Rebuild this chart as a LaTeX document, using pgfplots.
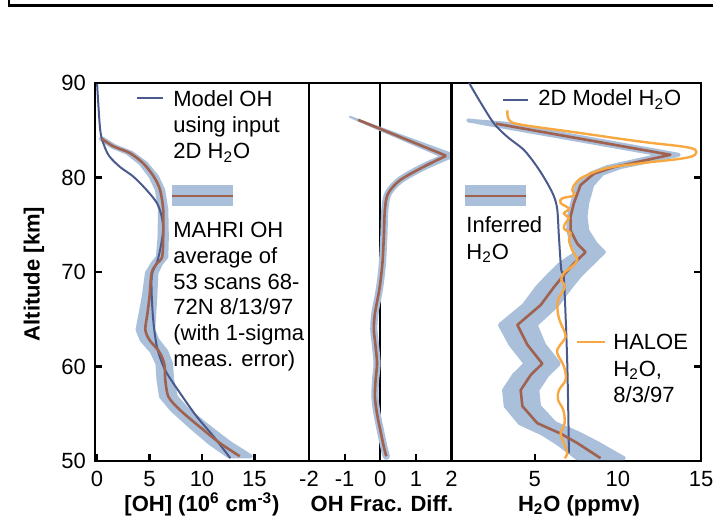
\documentclass[border=0pt]{standalone}
\usepackage{fontspec}
\setmainfont{Liberation Sans}
\usepackage{pgfplots}
\pgfplotsset{compat=1.18}
\definecolor{band}{HTML}{A9BFDA}
\definecolor{brn}{HTML}{A0624F}
\definecolor{mblue}{HTML}{4B5A8C}
\definecolor{orng}{HTML}{F8A842}
\newcommand\tf{\fontsize{11}{13}\selectfont}
\begin{document}
\begin{tikzpicture}
\useasboundingbox (0,0) rectangle (356.5pt,-259.5pt);
\pgfplotsset{
  myaxis/.style={
    scale only axis, anchor=north west, height=189pt,
    ymin=50, ymax=90, ytick={50,60,70,80,90},
    axis line style={line width=1.1pt},
    every tick/.style={black, line width=1.1pt},
    major tick length=3.5pt,
    tick align=inside,
    xtick pos=left,
    tick label style={font=\tf},
    /pgf/number format/assume math mode=true,
    xticklabel style={anchor=base, yshift=-13pt},
  }
}
% ---------------- Panel 1 : OH ----------------
\begin{axis}[myaxis, at={(47.5pt,-41.5pt)}, width=107pt,
  xmin=-0.2, xmax=20.2, xtick={0,5,10,15}, ytick pos=left,
  yticklabel style={xshift=-1pt}]
\addplot[fill=band, draw=band, line width=2pt, line join=round] coordinates {
 (0.34,84.1) (1.40,83.3) (2.90,82.6) (4.15,81.5) (5.10,80.1) (5.70,78.7)
 (6.00,76.6) (5.95,73.7) (5.80,71.6) (5.30,70.9) (4.75,69.9) (4.45,67.4)
 (4.15,65.6) (3.85,63.9) (4.25,62.8) (5.20,61.6) (5.75,60.3) (5.85,58.6)
 (6.10,56.8) (7.15,55.4) (8.95,53.6) (10.75,51.9) (12.55,50.5)
 (14.65,50.5) (12.65,51.9) (10.65,53.6) (8.65,55.4) (7.50,56.8) (7.15,58.6)
 (7.05,60.3) (6.60,61.6) (5.75,62.8) (5.35,63.9) (5.45,65.6) (5.55,67.4)
 (5.65,69.9) (6.10,70.9) (6.60,71.6) (6.65,73.7) (6.60,76.6) (6.30,78.7)
 (5.70,80.1) (4.65,81.5) (3.30,82.6) (1.70,83.3) (0.54,84.1)} -- cycle;
\addplot[mblue, line width=1pt, smooth, tension=0.5] coordinates {
 (0.0,89.9) (0.3,85.0) (0.7,83.3) (1.2,82.2) (2.2,81.1) (3.45,80.1) (4.7,78.7)
 (5.7,77.3) (6.15,75.9) (6.3,74.4) (6.0,72.3) (5.7,71.0) (5.2,69.5) (5.3,65.6)
 (5.7,62.1) (6.5,59.6) (7.9,57.2) (9.5,54.7) (11.1,52.6) (12.7,50.3)};
\addplot[brn, line width=1.3pt, smooth, tension=0.5] coordinates {
 (0.44,84.1) (1.55,83.3) (3.1,82.6) (4.4,81.5) (5.4,80.1) (6.0,78.7) (6.3,76.6)
 (6.3,73.7) (6.2,71.6) (5.7,70.9) (5.2,69.9) (5.0,67.4) (4.8,65.6) (4.6,63.9)
 (5.0,62.8) (5.9,61.6) (6.4,60.3) (6.5,58.6) (6.8,56.8) (7.9,55.4) (9.8,53.6)
 (11.7,51.9) (13.6,50.5)};
\end{axis}
% ---------------- Panel 2 : OH Frac. Diff. ----------------
\begin{axis}[myaxis, at={(154.5pt,-41.5pt)}, width=71.25pt,
  xmin=-2, xmax=2, xtick={-2,-1,0,1,2}, xticklabels={-2,-1,0,1,2},
  ytick=\empty]
\addplot[black, line width=1.1pt] coordinates {(0,50) (0,90)};
\pgfplotsinvokeforeach{60,70,80}{
  \draw[line width=1.1pt] (axis cs:-2,#1) ++(-1.75pt,0) -- ++(3.5pt,0);
  \draw[line width=1.1pt] (axis cs:0,#1) ++(-1.75pt,0) -- ++(3.5pt,0);
  \draw[line width=1.1pt] (axis cs:2,#1) ++(-1.75pt,0) -- ++(3.5pt,0);
}
\addplot[fill=band, draw=band, line width=0.8pt, line join=round] coordinates {
 (-0.85,86.45) (1.95,82.6) (2.02,82.3) (1.85,82.0) (-0.62,86.0) (-0.85,86.4)} -- cycle;
\addplot[band, line width=3.6pt, line cap=round, smooth, tension=0.5] coordinates {
 (1.92,82.3) (1.2,81.1) (0.55,79.7) (0.22,78.3) (0.13,76.6) (0.10,73.7) (0.06,70.9)
 (-0.02,68.3) (-0.15,65.6) (-0.18,63.9) (-0.13,62.1) (-0.09,60.3) (-0.13,58.6)
 (-0.15,56.8) (-0.09,55.0) (0.0,53.3) (0.1,51.5) (0.17,50.5)};
\addplot[brn, line width=1.3pt] coordinates {(-0.62,86.1) (1.85,82.3)};
\addplot[brn, line width=1.3pt, smooth, tension=0.5] coordinates {
 (1.85,82.3) (1.2,81.1) (0.55,79.7) (0.22,78.3) (0.13,76.6) (0.10,73.7) (0.06,70.9)
 (-0.02,68.3) (-0.15,65.6) (-0.18,63.9) (-0.13,62.1) (-0.09,60.3) (-0.13,58.6)
 (-0.15,56.8) (-0.09,55.0) (0.0,53.3) (0.1,51.5) (0.17,50.5)};
\end{axis}
% ---------------- Panel 3 : H2O ----------------
\begin{axis}[myaxis, at={(225.75pt,-41.5pt)}, width=124.75pt,
  xmin=0, xmax=15, xtick={5,10,15}, ytick pos=right, yticklabels={}]
\addplot[fill=band, draw=band, line width=2pt, line join=round] coordinates {
 (1.00,86.05) (2.06,85.7) (12.66,82.4) (9.36,81.1) (8.36,80.4) (7.56,79.2)
 (7.26,77.3) (7.06,75.9) (7.01,74.4) (7.26,73.0) (7.56,72.1) (6.56,70.9)
 (5.86,69.7) (5.16,68.4) (4.36,66.5) (2.91,64.4) (3.56,62.3) (4.46,60.3)
 (3.76,59.1) (3.16,57.5) (3.26,55.8) (4.11,54.0) (5.46,52.9) (6.36,51.9) (7.56,50.3)
 (10.36,50.3) (8.76,51.9) (7.66,52.9) (6.21,54.0) (5.26,55.8) (5.16,57.5)
 (5.76,59.1) (6.46,60.3) (5.56,62.3) (5.06,64.4) (6.36,66.5) (7.16,68.4)
 (7.76,69.7) (8.46,70.9) (9.16,72.1) (8.66,73.0) (8.16,74.4) (8.06,75.9)
 (8.16,77.3) (8.46,79.2) (9.06,80.4) (10.16,81.1) (13.66,82.4) (3.26,85.7)
 (1.12,86.0)} -- cycle;
\addplot[mblue, line width=1pt, smooth, tension=0.5] coordinates {
 (1.06,90) (1.76,87.9) (2.56,85.7) (3.36,84.3) (4.36,82.9) (5.16,81.1) (5.76,79.4)
 (6.16,78.0) (6.36,76.6) (6.46,73.7) (6.6,70.2) (6.76,69.2) (6.96,60.3) (7.06,50.8)};
\addplot[brn, line width=1.3pt, line join=round] coordinates {
 (2.66,85.7) (13.16,82.4) (9.76,81.1) (8.56,80.4) (7.76,79.2) (7.36,77.3)
 (7.16,75.9) (7.16,74.4) (7.56,73.0) (8.06,72.1) (7.36,70.9) (6.76,69.7)
 (6.16,68.4) (5.36,66.5) (3.96,64.4) (4.56,62.3) (5.46,60.3) (4.76,59.1)
 (4.16,57.5) (4.26,55.8) (5.16,54.0) (6.56,52.9) (7.56,51.9) (8.96,50.3)};
\addplot[orng, line width=1.2pt, smooth, tension=0.6] coordinates {
 (3.36,87.1) (3.46,86.1) (4.16,85.6) (7.36,84.8) (11.36,83.8) (14.16,83.2)
 (14.72,82.7) (14.16,82.1) (11.36,81.5) (9.36,81.0) (7.96,80.1) (7.46,79.4)
 (7.26,78.7) (7.36,78.1) (6.66,77.8) (6.56,77.3) (7.06,76.7) (6.76,76.2)
 (7.06,75.7) (6.86,75.2) (6.76,74.6) (7.16,74.1) (7.06,73.4) (7.26,72.3)
 (7.56,71.3) (7.26,70.6) (6.76,69.9) (6.6,69.2) (6.8,68.4) (6.4,67.0)
 (6.4,65.6) (6.56,64.6) (6.86,63.2) (6.46,62.1) (6.36,61.4) (6.76,60.0)
 (6.86,58.6) (6.46,57.5) (6.4,56.5) (6.72,55.4) (6.8,54.0) (6.56,52.9)
 (6.76,51.9) (6.96,50.8) (6.8,50.3)};
\end{axis}
% ---------------- annotations (pixel coordinates) ----------------
\begin{scope}[x=0.5pt, y=-0.5pt, every node/.style={font=\tf, inner sep=0pt}]
\draw[line width=1.35pt] (9,0) -- (9,5.5) -- (713,5.5);
% axis labels
\node[rotate=90, font=\tf\bfseries] at (34,274) {Altitude [km]};
\node[anchor=base, font=\tf\bfseries] at (202,511) {[OH] (10\textsuperscript{6} cm\textsuperscript{-3})};
\node[anchor=base, font=\tf\bfseries] at (382,511) {OH Frac. Diff.};
\node[anchor=base, font=\tf\bfseries] at (579,511) {H\textsubscript{2}O (ppmv)};
% panel 1 legend
\draw[mblue, line width=1pt] (137,98) -- (163,98);
\node[anchor=base west] at (173,107) {Model OH};
\node[anchor=base west] at (173,133) {using input};
\node[anchor=base west] at (173,159) {2D H\textsubscript{2}O};
\fill[band] (172,185) rectangle (233,206);
\draw[brn, line width=1.3pt] (172,196) -- (233,196);
\node[anchor=base west] at (173,238) {MAHRI OH};
\node[anchor=base west] at (173,263.5) {average of};
\node[anchor=base west] at (173,289) {53 scans 68-};
\node[anchor=base west] at (173,314.5) {72N 8/13/97};
\node[anchor=base west] at (173,340) {(with 1-sigma};
\node[anchor=base west] at (173,366) {meas. error)};
% panel 3 legend
\draw[mblue, line width=1pt] (503,100) -- (528,100);
\node[anchor=base west] at (538,106) {2D Model H\textsubscript{2}O};
\fill[band] (465,185) rectangle (526,206);
\draw[brn, line width=1.3pt] (465,196) -- (526,196);
\node[anchor=base west] at (466,233) {Inferred};
\node[anchor=base west] at (466,259) {H\textsubscript{2}O};
\draw[orng, line width=1.2pt] (577,342) -- (605,342);
\node[anchor=base west] at (613,350) {HALOE};
\node[anchor=base west] at (613,376) {H\textsubscript{2}O,};
\node[anchor=base west] at (613,402) {8/3/97};
\end{scope}
\end{tikzpicture}
\end{document}
